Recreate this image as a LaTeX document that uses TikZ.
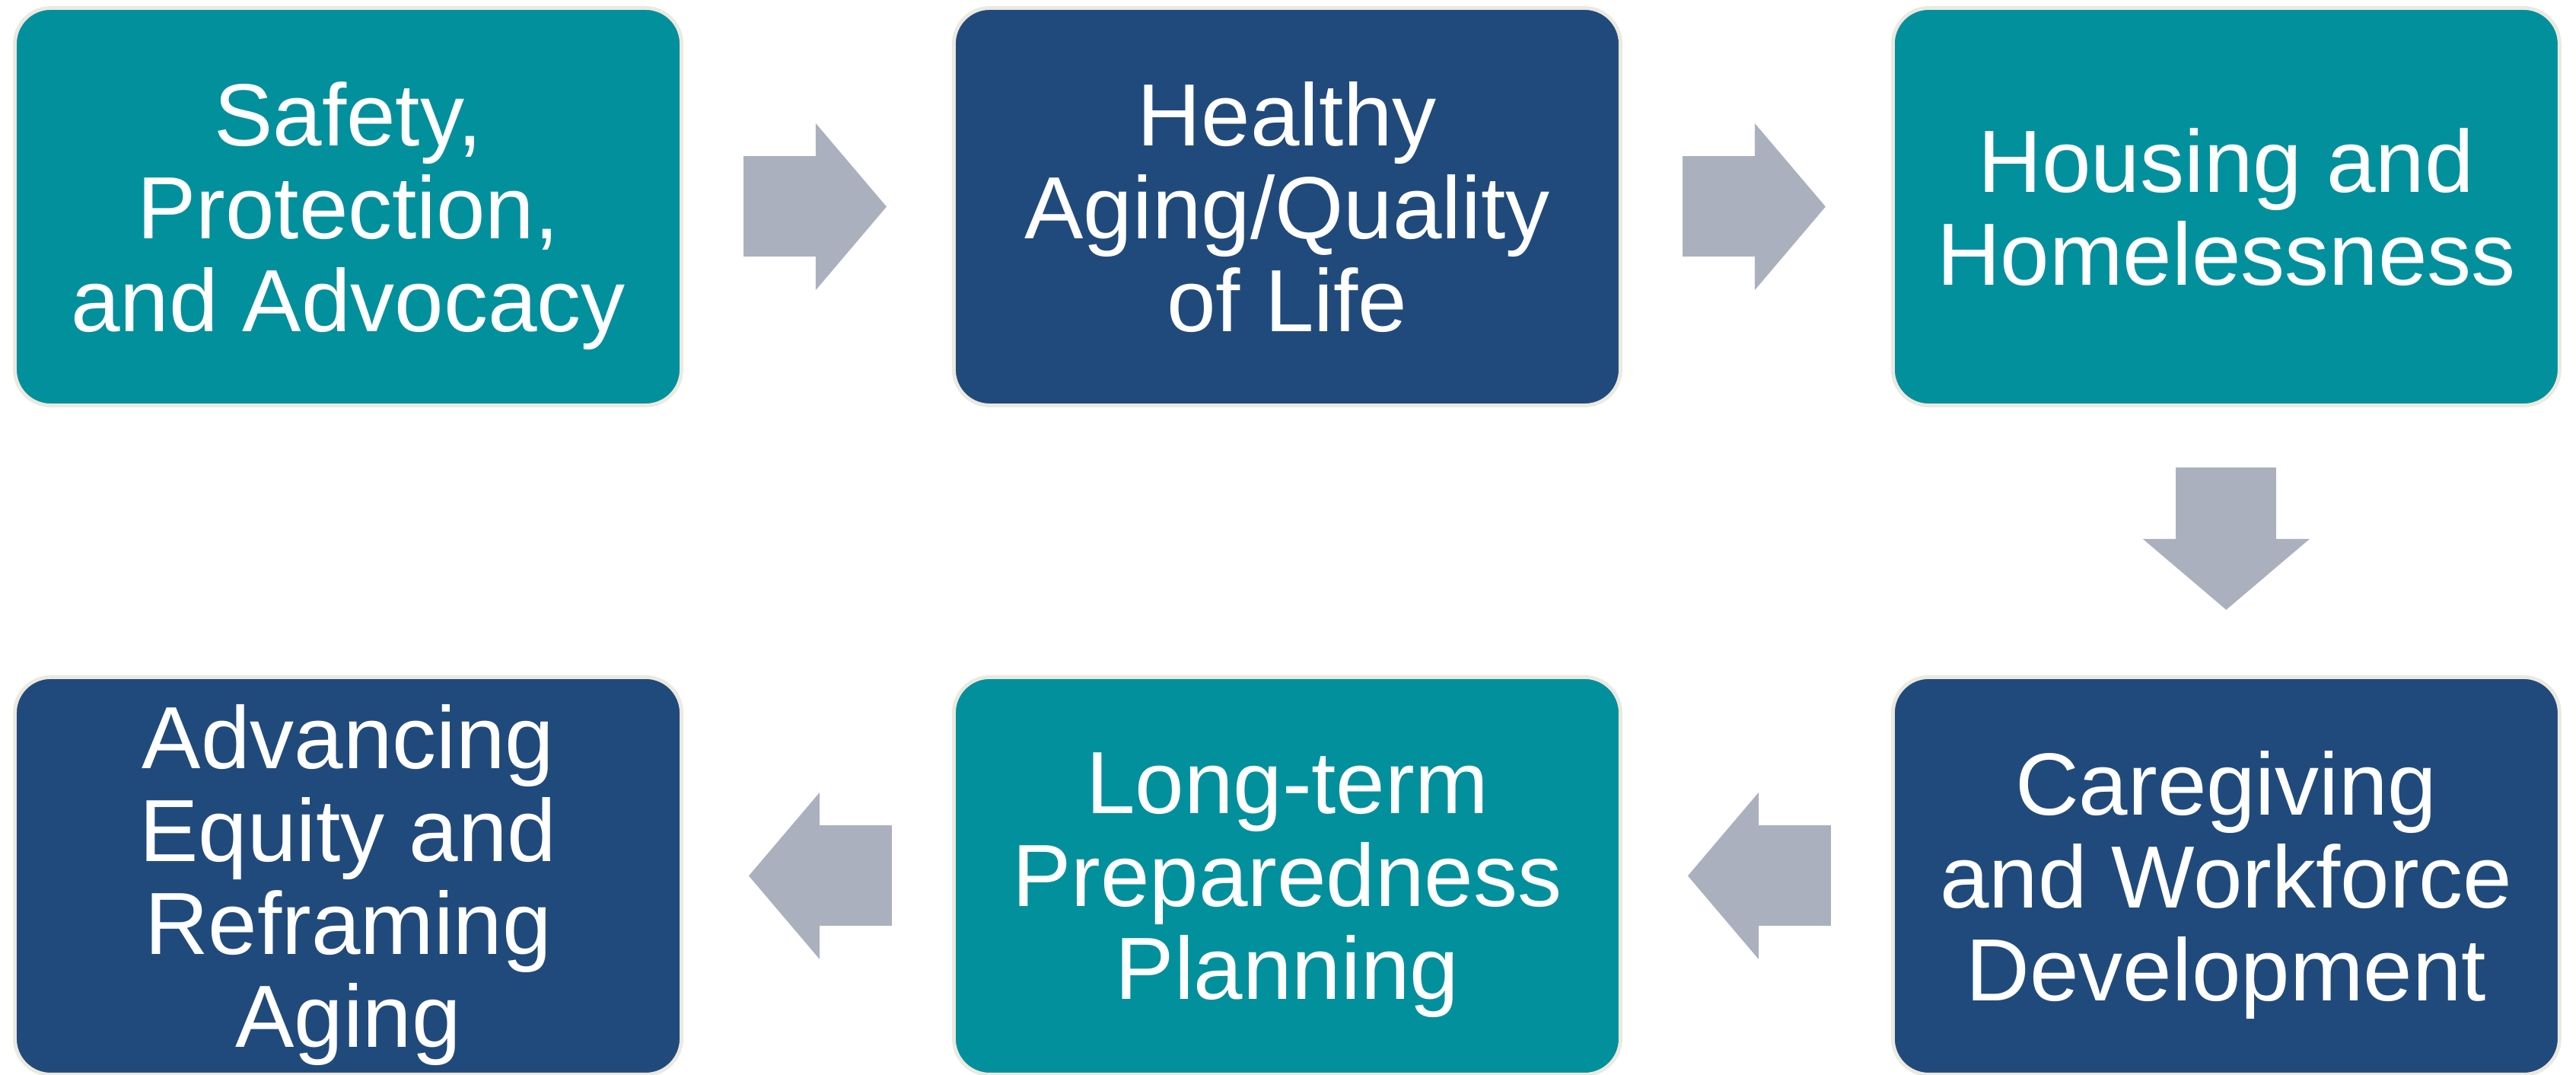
\documentclass[tikz,border=0pt]{standalone}
\usepackage{fontspec}
\setmainfont{Liberation Sans}
\usetikzlibrary{positioning,arrows.meta}

\definecolor{tealbox}{HTML}{03909D}
\definecolor{navybox}{HTML}{214A7C}
\definecolor{edgecream}{HTML}{ECE9DF}
\definecolor{flowgray}{HTML}{ABB0BE}

\begin{document}
\begin{tikzpicture}[node distance=3.52cm and 3.53cm,
    topic node/.style={rounded corners=0.47cm,draw=edgecream,line width=1.4pt,minimum width=8.76cm,minimum height=5.22cm,align=center,text=white,text depth=0pt,font=\fontsize{33}{34.7}\selectfont},
    flow arrow/.style={draw=flowgray,line width=1.32cm,-{Triangle[length=0.93cm,width=2.19cm,line width=0pt]},shorten <=0.79cm,shorten >=0.86cm}]
    \useasboundingbox (0,0) rectangle (33.85,14.11);

    \node[topic node,fill=tealbox] (safety) at (4.575,11.395) {Safety,\\Protection,\\and Advocacy};
    \node[topic node,fill=navybox] (healthy) [right=of safety] {Healthy\\Aging/Quality\\of Life};
    \node[topic node,fill=tealbox] (housing) [right=of healthy] {Housing and\\Homelessness};
    \node[topic node,fill=navybox] (caregiving) [below=of housing] {Caregiving\\and Workforce\\Development};
    \node[topic node,fill=tealbox] (longterm) [left=of caregiving] {Long-term\\Preparedness\\Planning};
    \node[topic node,fill=navybox] (advancing) [left=of longterm] {Advancing\\Equity and\\Reframing\\Aging};

    \draw[flow arrow] (safety) -- (healthy);
    \draw[flow arrow] (healthy) -- (housing);
    \draw[flow arrow] (housing) -- (caregiving);
    \draw[flow arrow] (caregiving) -- (longterm);
    \draw[flow arrow] (longterm) -- (advancing);
\end{tikzpicture}
\end{document}
